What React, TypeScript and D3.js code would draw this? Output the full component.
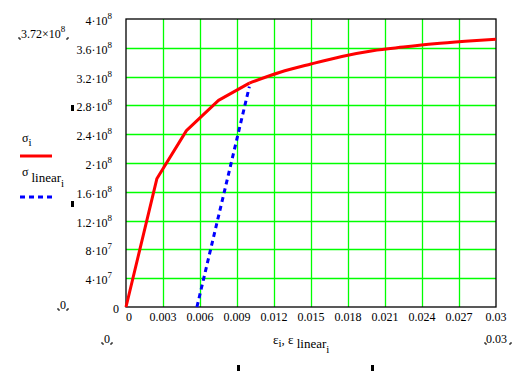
import * as d3 from 'd3'

const width = 529
const height = 373

// stress-strain curve
const strain = [0, 0.0025, 0.0049, 0.0075, 0.01, 0.0125, 0.015, 0.0175, 0.02, 0.0225, 0.025, 0.0275, 0.03]
const stress = [0, 1.78e8, 2.45e8, 2.87e8, 3.11e8, 3.26e8, 3.375e8, 3.48e8, 3.56e8, 3.61e8, 3.655e8, 3.69e8, 3.72e8]

// offset line
const linearStrain = [0.00575, 0.01]
const linearStress = [0, 3.06e8]

const xTicks = [0, 0.003, 0.006, 0.009, 0.012, 0.015, 0.018, 0.021, 0.024, 0.027, 0.03]
const xTickLabels = ['0', '0.003', '0.006', '0.009', '0.012', '0.015', '0.018', '0.021', '0.024', '0.027', '0.03']
const yTicks = [0, 4e7, 8e7, 1.2e8, 1.6e8, 2e8, 2.4e8, 2.8e8, 3.2e8, 3.6e8, 4e8]
const yTickMantissa = ['0', '4', '8', '1.2', '1.6', '2', '2.4', '2.8', '3.2', '3.6', '4']
const yTickExp = ['', '7', '7', '8', '8', '8', '8', '8', '8', '8', '8']

const margin = { top: 19, right: 33, bottom: 66, left: 126 }
const font = '"Liberation Serif", "Times New Roman", serif'

function Corner({ x, y, flip }: { x: number; y: number; flip?: boolean }) {
  const d = flip ? `M${x},${y - 2}V${y}H${x - 2}` : `M${x},${y - 2}V${y}H${x + 2}`
  return <path d={d} stroke="#000" strokeWidth={1} fill="none" />
}

export default function App() {
  const x = d3.scaleLinear().domain([0, 0.03]).range([margin.left, width - margin.right])
  const y = d3.scaleLinear().domain([0, 4e8]).range([height - margin.bottom, margin.top])

  const line = d3.line<[number, number]>()
    .x(d => x(d[0]))
    .y(d => y(d[1]))
  const smooth = d3.line<[number, number]>()
    .x(d => x(d[0]))
    .y(d => y(d[1]))
    .curve(d3.curveMonotoneX)

  const mainPts = strain.map((s, i) => [s, stress[i]] as [number, number])
  // sharp segments up to 0.01, smooth hardening tail after
  const split = strain.indexOf(0.01)
  const headPts = mainPts.slice(0, split + 1)
  const tailPts = mainPts.slice(split)
  const linPts = linearStrain.map((s, i) => [s, linearStress[i]] as [number, number])

  const [x0, x1] = x.range()
  const [y0, y1] = y.range()

  return (
    <svg width={width} height={height} style={{ position: 'absolute', left: 0, top: 0, background: '#fff' }}
      fontFamily={font} fontSize={12}>
      <rect width={width} height={height} fill="#fff" />
      {/* grid */}
      {xTicks.slice(1, -1).map(t => (
        <line key={'gx' + t} x1={Math.round(x(t)) + 0.5} x2={Math.round(x(t)) + 0.5} y1={y1} y2={y0} stroke="#00ff00" strokeWidth={1.3} />
      ))}
      {yTicks.slice(1, -1).map(t => (
        <line key={'gy' + t} x1={x0} x2={x1} y1={Math.round(y(t)) + 0.5} y2={Math.round(y(t)) + 0.5} stroke="#00ff00" strokeWidth={1.3} />
      ))}
      <rect x={x0} y={y1} width={x1 - x0} height={y0 - y1} fill="none" stroke="#000" strokeWidth={1.3} />

      {/* y tick labels */}
      {yTicks.map((t, i) => (
        <text key={'ty' + t} x={yTickExp[i] ? x0 - 14 : x0 - 7} y={y(t) + 6} textAnchor="end">
          {yTickMantissa[i]}{yTickExp[i] ? '\u00b710' : ''}
          {yTickExp[i] ? <tspan fontSize={9} dy={-6} textAnchor="start">{yTickExp[i]}</tspan> : null}
        </text>
      ))}
      {/* x tick labels */}
      {xTicks.map((t, i) => (
        <text key={'tx' + t} x={x(t) + (i === 0 ? 3 : 0)} y={y0 + 14} textAnchor="middle">{xTickLabels[i]}</text>
      ))}

      {/* curves */}
      <path d={line(headPts) ?? ''} fill="none" stroke="#ff0000" strokeWidth={3} strokeLinejoin="round" />
      <path d={smooth(tailPts) ?? ''} fill="none" stroke="#ff0000" strokeWidth={3} />
      <path d={line(linPts) ?? ''} fill="none" stroke="#0000ff" strokeWidth={3} strokeDasharray="5,4" />

      {/* axis limit labels */}
      <text x={21} y={38}>3.72×10<tspan fontSize={9} dy={-6}>8</tspan></text>
      <Corner x={19} y={39} />
      <Corner x={68} y={39} flip />
      <text x={60} y={309}>0</text>
      <Corner x={58} y={310} />
      <Corner x={68} y={310} flip />
      <text x={104} y={343}>0</text>
      <Corner x={102} y={344} />
      <Corner x={112} y={344} flip />
      <text x={486} y={343}>0.03</text>
      <Corner x={485} y={344} />
      <Corner x={511} y={344} flip />

      {/* axis title */}
      <text x={273} y={344} fontSize={13}>
        ε<tspan fontSize={11} dy={3}>i</tspan><tspan dy={-3}>, ε </tspan>
        <tspan dy={4}>linear</tspan><tspan fontSize={11} dy={5}>i</tspan>
      </text>

      {/* legend */}
      <text x={22} y={142}>σ<tspan fontSize={11} dy={4}>i</tspan></text>
      <line x1={20} x2={52} y1={156} y2={156} stroke="#ff0000" strokeWidth={3} />
      <text x={22} y={176}>σ <tspan fontSize={13} dy={6}>linear</tspan><tspan fontSize={11} dy={5}>i</tspan></text>
      <line x1={20} x2={52} y1={197} y2={197} stroke="#0000ff" strokeWidth={3} strokeDasharray="5,4" />

      {/* stray marks */}
      <rect x={71} y={105} width={3} height={6} fill="#000" />
      <rect x={71} y={201} width={3} height={6} fill="#000" />
      <rect x={237} y={365} width={3} height={6} fill="#000" />
      <rect x={371} y={365} width={3} height={6} fill="#000" />
    </svg>
  )
}
